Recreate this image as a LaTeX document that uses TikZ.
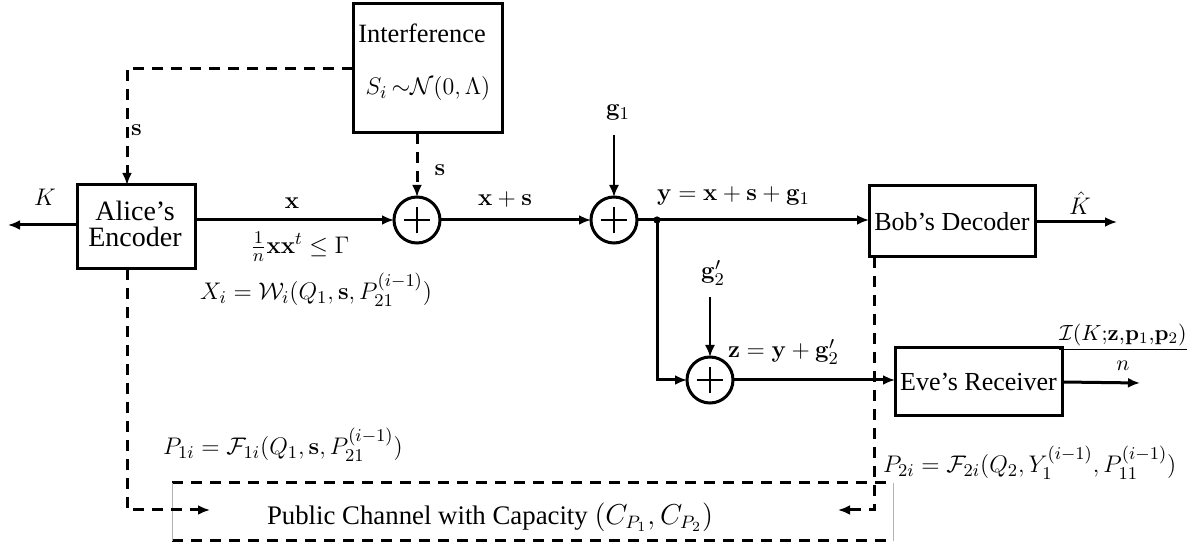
\documentclass[tikz,border=0pt]{standalone}
\usepackage{amsmath}
\usepackage[no-math]{fontspec}
\setmainfont{Liberation Serif}
\usetikzlibrary{arrows.meta,calc}
\begin{document}
\begin{tikzpicture}[x=0.5pt,y=-0.5pt,
  every node/.style={inner sep=0pt, outer sep=0pt},
  box/.style={draw, line width=1.5pt, inner sep=0pt},
  sum/.style={draw, circle, line width=1.5pt, minimum size=23pt,
    path picture={\draw[line width=1.3pt]
      ([xshift=-6.7pt]path picture bounding box.center) -- ([xshift=6.7pt]path picture bounding box.center)
      ([yshift=-6.7pt]path picture bounding box.center) -- ([yshift=6.7pt]path picture bounding box.center);}},
  wire/.style={line width=1.5pt},
  thinwire/.style={line width=1pt},
  dsh/.style={line width=1.5pt, dash pattern=on 5.5pt off 4pt},
  arr/.style={-{Latex[length=6pt,width=5pt]}},
  lbl/.style={font=\fontsize{13}{15}\selectfont},
  txt/.style={font=\fontsize{14}{13}\selectfont},
  btxt/.style={font=\fontsize{13}{13}\selectfont},
]
\useasboundingbox (0,0) rectangle (1195,550);

% boxes
\node[box, minimum width=74.5pt, minimum height=64.5pt] (intf) at (427.5,68.5) {};
\node[font=\fontsize{13.2}{13}\selectfont] (intft) at (422,33) {Interference};
\node[lbl] (intfm) at (428,89) {$S_i\,{\sim}\mathcal{N}(0,\Lambda)$};

\node[box, minimum width=59pt, minimum height=42pt] (alice) at (136,227) {};
\node[txt, align=center] (alicet) at (135,224) {Alice's\\Encoder};

\node[box, minimum width=83pt, minimum height=35.5pt, btxt] (bob) at (952,221.5) {Bob's Decoder};
\node[box, minimum width=83.5pt, minimum height=34pt, btxt] (eve) at (978.5,382) {Eve's Receiver};

\node[minimum width=360.5pt, minimum height=29pt] (pub) at (532.5,512) {};
\draw[dsh] (pub.north west) -- (pub.north east);
\draw[dsh] (pub.south west) -- (pub.south east);
\draw[gray!60, line width=0.5pt] (pub.north west) -- (pub.south west) (pub.north east) -- (pub.south east);
\node[font=\fontsize{13.4}{13}\selectfont, anchor=west] (pubt) at (267,517) {Public Channel with Capacity $(C_{P_1}, C_{P_2})$};

% adders
\node[sum] (c1) at (417,220) {};
\node[sum] (c2) at (614,220) {};
\node[sum] (c3) at (710,380) {};
\coordinate (dot) at (657,220);
\fill (dot) circle (1.8pt);

% coordinates
\coordinate (kout) at (8,225);
\coordinate (khat) at (1117,222);
\coordinate (eveout) at (1140,383);
\coordinate (g1s) at (614,135);
\coordinate (g2s) at (710,297);
\coordinate (aL) at (127,68);
\coordinate (pl) at (127,510);
\coordinate (plend) at (210,510);
\coordinate (pr) at (874,510);
\coordinate (prend) at (838,510);

% solid wires
\draw[wire, arr] (alice.west |- kout) -- (kout);
\draw[wire, arr] (alice.east |- c1) -- (c1.west);
\draw[wire, arr] (c1.east) -- (c2.west);
\draw[wire, arr] (c2.east) -- (bob.west |- c2);
\draw[wire, arr] (bob.east |- khat) -- (khat);
\draw[wire, arr] (dot) |- (c3.west);
\draw[wire, arr] (c3.east) -- (eve.west |- c3);
\draw[wire, arr] (eve.east) -- (eveout);
\draw[thinwire, arr] (g1s) -- (c2.north);
\draw[thinwire, arr] (g2s) -- (c3.north);

% dashed wires
\draw[dsh, arr] (intf.west) -- (intf.west -| aL) -- (aL |- alice.north);
\draw[dsh, arr] (c1 |- intf.south) -- (c1.north);
\draw[dsh, arr] (aL |- alice.south) -- (pl) -- (plend);
\draw[dsh, arr] (pr |- bob.south) -- (pr) -- (prend);

% labels
\node[lbl] (klbl) at (45,197) {$K$};
\node[lbl] (xlbl) at (292,203) {$\mathbf{x}$};
\node[lbl] (pwr) at (300,247) {$\frac{1}{n}\mathbf{x}\mathbf{x}^t\le\Gamma$};
\node[lbl, anchor=west] (s1) at (131,130) {$\mathbf{s}$};
\node[lbl] (s2) at (440,170) {$\mathbf{s}$};
\node[lbl] (xs) at (505,200) {$\mathbf{x}+\mathbf{s}$};
\node[lbl] (g1) at (618,113) {$\mathbf{g}_1$};
\node[lbl, anchor=west] (ylbl) at (657,196) {$\mathbf{y}=\mathbf{x}+\mathbf{s}+\mathbf{g}_1$};
\node[lbl] (khatl) at (1080,203) {$\hat{K}$};
\node[lbl] (g2) at (713,273) {$\mathbf{g}_2'$};
\node[lbl, anchor=west] (zlbl) at (728,352) {$\mathbf{z}=\mathbf{y}+\mathbf{g}_2'$};
\node[font=\fontsize{11}{13}\selectfont] (frac) at (1123,347) {$\dfrac{\mathcal{I}(K;\!\mathbf{z},\!\mathbf{p}_1,\!\mathbf{p}_2)}{n}$};
\node[lbl, anchor=west] (xi) at (200,290) {$X_i=\mathcal{W}_i(Q_1,\mathbf{s},P_{21}^{(i-1)})$};
\node[lbl, anchor=west] (p1) at (163,445) {$P_{1i}=\mathcal{F}_{1i}(Q_1,\mathbf{s},P_{21}^{(i-1)})$};
\node[lbl, anchor=west] (p2) at (883,463) {$P_{2i}=\mathcal{F}_{2i}(Q_2,Y_1^{(i-1)},P_{11}^{(i-1)})$};
\end{tikzpicture}
\end{document}
